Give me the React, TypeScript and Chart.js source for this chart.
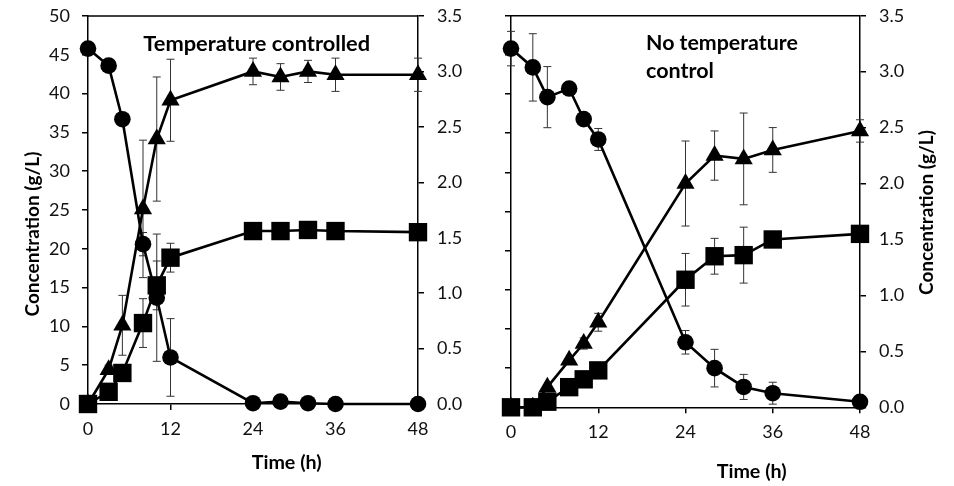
import React, { useEffect, useRef } from "react";
import { Chart, registerables } from "chart.js";

Chart.register(...registerables);

// ---- data ----
const times = [0, 3, 5, 8, 10, 12, 24, 28, 32, 36, 48];
const xTickValues = [0, 12, 24, 36, 48];
const leftTickValues = [0, 5, 10, 15, 20, 25, 30, 35, 40, 45, 50];
const rightTickValues = [0, 0.5, 1, 1.5, 2, 2.5, 3, 3.5];

// Temperature controlled (circles on left axis g/L, triangles & squares on right axis)
const tcCircle = [45.8, 43.6, 36.7, 20.6, 13.7, 6.0, 0.1, 0.3, 0.1, 0.0, 0.0];
const tcCircleErr = [0, 0, 0, 1.5, 8.2, 5.0, 0, 0, 0, 0, 0];
const tcTriangle = [0, 0.31, 0.71, 1.76, 2.39, 2.74, 3.0, 2.95, 3.0, 2.97, 2.97];
const tcTriangleErr = [0, 0.04, 0.27, 0.62, 0.56, 0.37, 0.12, 0.12, 0.1, 0.15, 0.15];
const tcSquare = [0, 0.11, 0.28, 0.73, 1.07, 1.32, 1.56, 1.56, 1.57, 1.56, 1.55];
const tcSquareErr = [0, 0, 0.07, 0.22, 0.22, 0.13, 0, 0, 0, 0, 0];

// No temperature control
const ncCircle = [45.8, 43.4, 39.6, 40.7, 36.8, 34.2, 8.3, 5.0, 2.6, 1.8, 0.7];
const ncCircleErr = [2.2, 4.3, 3.9, 0, 0, 1.4, 1.5, 2.4, 1.6, 1.4, 0];
const ncTriangle = [0, 0, 0.18, 0.42, 0.57, 0.76, 2.0, 2.25, 2.22, 2.3, 2.47];
const ncTriangleErr = [0, 0, 0, 0, 0.05, 0.08, 0.38, 0.22, 0.41, 0.2, 0.1];
const ncSquare = [0, 0, 0.05, 0.18, 0.25, 0.33, 1.14, 1.35, 1.36, 1.5, 1.55];
const ncSquareErr = [0, 0, 0, 0, 0, 0, 0.235, 0.16, 0.25, 0, 0];

const FONT = "Lato, 'Open Sans', sans-serif";

type TextItem = {
  text: string;
  x: number;
  y: number;
  rot?: number;
  width: number;
  align?: CanvasTextAlign;
};

function fitFontSize(ctx: CanvasRenderingContext2D, text: string, width: number) {
  ctx.font = `bold 100px ${FONT}`;
  const w = ctx.measureText(text).width;
  return (100 * width) / w;
}

const overlayPlugin = {
  id: "overlay",
  beforeDatasetsDraw(chart: any) {
    const ctx = chart.ctx as CanvasRenderingContext2D;
    const area = chart.chartArea;
    // top border
    ctx.save();
    ctx.strokeStyle = "#000";
    ctx.lineWidth = 1.5;
    ctx.beginPath();
    ctx.moveTo(area.left, area.top);
    ctx.lineTo(area.right, area.top);
    ctx.stroke();
    // error bars
    const errs = chart.options.plugins.overlay.errors as number[][];
    ctx.strokeStyle = "#333";
    ctx.lineWidth = 1;
    chart.data.datasets.forEach((ds: any, i: number) => {
      const err = errs[i];
      const ys = chart.scales[ds.yAxisID];
      const xs = chart.scales.x;
      ds.data.forEach((p: any, j: number) => {
        const e = err[j];
        if (!e) return;
        const px = xs.getPixelForValue(p.x);
        const top = ys.getPixelForValue(p.y + e);
        const bot = ys.getPixelForValue(Math.max(p.y - e, ys.min));
        ctx.beginPath();
        ctx.moveTo(px, top);
        ctx.lineTo(px, bot);
        ctx.moveTo(px - 4, top);
        ctx.lineTo(px + 4, top);
        ctx.moveTo(px - 4, bot);
        ctx.lineTo(px + 4, bot);
        ctx.stroke();
      });
    });
    ctx.restore();
  },
  afterDraw(chart: any) {
    const ctx = chart.ctx as CanvasRenderingContext2D;
    const items = chart.options.plugins.overlay.texts as TextItem[];
    ctx.save();
    ctx.fillStyle = "#000";
    items.forEach((t) => {
      const size = fitFontSize(ctx, t.text, t.width);
      ctx.font = `bold ${size}px ${FONT}`;
      ctx.textBaseline = "middle";
      ctx.textAlign = t.align || "center";
      ctx.save();
      ctx.translate(t.x, t.y);
      if (t.rot) ctx.rotate(t.rot);
      ctx.fillText(t.text, 0, 0);
      ctx.restore();
    });
    ctx.restore();
  },
};

function makeDatasets(circle: number[], tri: number[], sq: number[]) {
  const base = {
    borderColor: "#000",
    backgroundColor: "#000",
    pointBorderColor: "#000",
    pointBackgroundColor: "#000",
    borderWidth: 2.6,
    pointBorderWidth: 0,
    showLine: true,
    tension: 0,
    clip: false as any,
  };
  return [
    {
      ...base,
      label: "circle",
      yAxisID: "yL",
      pointStyle: "circle",
      pointRadius: 8.3,
      data: times.map((t, i) => ({ x: t, y: circle[i] })),
    },
    {
      ...base,
      label: "triangle",
      yAxisID: "yR",
      pointStyle: "triangle",
      pointRadius: 10.5,
      data: times.map((t, i) => ({ x: t, y: tri[i] })),
    },
    {
      ...base,
      label: "square",
      yAxisID: "yR",
      pointStyle: "rect",
      pointRadius: 13,
      data: times.map((t, i) => ({ x: t, y: sq[i] })),
    },
  ];
}

function makeOptions(cfg: {
  leftW: number;
  rightW: number;
  xH: number;
  top: number;
  showLeftLabels: boolean;
  errors: number[][];
  texts: TextItem[];
}) {
  const tickFont = { family: FONT, size: 18 };
  const grid = {
    drawOnChartArea: false,
    drawTicks: true,
    tickLength: 6,
    color: "#000",
    lineWidth: 1.5,
  };
  const border = { display: true, color: "#000", width: 1.5 };
  return {
    responsive: false,
    animation: false as const,
    events: [],
    layout: { padding: { top: cfg.top, left: 0, right: 0, bottom: 0 } },
    plugins: {
      legend: { display: false },
      tooltip: { enabled: false },
      overlay: { errors: cfg.errors, texts: cfg.texts },
    },
    scales: {
      x: {
        type: "linear" as const,
        min: 0,
        max: 48,
        afterBuildTicks: (s: any) => {
          s.ticks = xTickValues.map((v) => ({ value: v }));
        },
        afterFit: (s: any) => {
          s.height = cfg.xH;
          s.paddingLeft = 0;
          s.paddingRight = 0;
        },
        ticks: { font: tickFont, color: "#111", padding: 8, maxRotation: 0 },
        grid,
        border,
      },
      yL: {
        type: "linear" as const,
        position: "left" as const,
        min: 0,
        max: 50,
        afterBuildTicks: (s: any) => {
          s.ticks = leftTickValues.map((v) => ({ value: v }));
        },
        afterFit: (s: any) => {
          s.width = cfg.leftW;
          s.paddingTop = 0;
          s.paddingBottom = 0;
        },
        ticks: {
          display: cfg.showLeftLabels,
          font: tickFont,
          color: "#111",
          padding: 12,
        },
        grid,
        border,
      },
      yR: {
        type: "linear" as const,
        position: "right" as const,
        min: 0,
        max: 3.5,
        afterBuildTicks: (s: any) => {
          s.ticks = rightTickValues.map((v) => ({ value: v }));
        },
        afterFit: (s: any) => {
          s.width = cfg.rightW;
          s.paddingTop = 0;
          s.paddingBottom = 0;
        },
        ticks: {
          font: tickFont,
          color: "#111",
          padding: 13,
          callback: (v: any) => Number(v).toFixed(1),
        },
        grid,
        border,
      },
    },
  };
}

function Panel(props: { datasets: any[]; options: any; left: number }) {
  const ref = useRef<HTMLCanvasElement>(null);
  useEffect(() => {
    const chart = new Chart(ref.current as HTMLCanvasElement, {
      type: "line",
      data: { datasets: props.datasets },
      options: props.options,
      plugins: [overlayPlugin],
    } as any);
    return () => chart.destroy();
  }, []);
  return (
    <div style={{ position: "absolute", left: props.left, top: 0, width: 477, height: 486 }}>
      <canvas ref={ref} width={477} height={486} style={{ width: 477, height: 486 }} />
    </div>
  );
}

export default function App() {
  const leftOpts = makeOptions({
    leftW: 88,
    rightW: 59,
    xH: 82,
    top: 16,
    showLeftLabels: true,
    errors: [tcCircleErr, tcTriangleErr, tcSquareErr],
    texts: [
      { text: "Temperature controlled", x: 256.7, y: 43.5, width: 227 },
      { text: "Concentration (g/L)", x: 33.3, y: 234, width: 165, rot: -Math.PI / 2 },
      { text: "Time (h)", x: 286.7, y: 463, width: 70 },
    ],
  });
  const rightOpts = makeOptions({
    leftW: 34,
    rightW: 94,
    xH: 78.7,
    top: 15.7,
    showLeftLabels: false,
    errors: [ncCircleErr, ncTriangleErr, ncSquareErr],
    texts: [
      { text: "No temperature", x: 169, y: 43.5, width: 152, align: "left" },
      { text: "control", x: 169, y: 71, width: 68, align: "left" },
      { text: "Concentration (g/L)", x: 450.3, y: 212.5, width: 165, rot: -Math.PI / 2 },
      { text: "Time (h)", x: 274.7, y: 471.7, width: 70 },
    ],
  });
  return (
    <div style={{ position: "fixed", left: 0, top: 0, width: 954, height: 486, background: "#fff" }}>
      <Panel datasets={makeDatasets(tcCircle, tcTriangle, tcSquare)} options={leftOpts} left={0} />
      <Panel datasets={makeDatasets(ncCircle, ncTriangle, ncSquare)} options={rightOpts} left={477} />
    </div>
  );
}
